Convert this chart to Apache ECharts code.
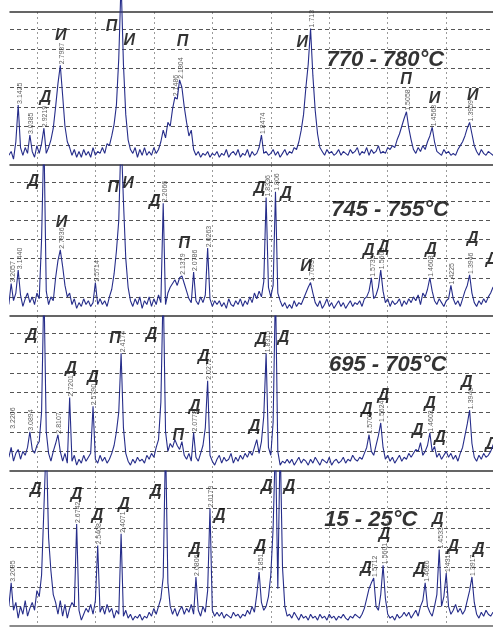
<!DOCTYPE html>
<html>
<head>
<meta charset="utf-8">
<script src="https://cdn.jsdelivr.net/npm/echarts@6/dist/echarts.min.js"></script>
<style>
  html, body { margin: 0; padding: 0; background: #fff; }
  #chart { width: 493px; height: 629px; }
</style>
</head>
<body>
<div id="chart"></div>
<script>
// 2theta sampling of the traces (deg), every 0.2 deg
var TWO_THETA_START = 27.6;
var TWO_THETA_STEP = 0.2;

// intensities, one value per 0.2 deg, rows of 2 deg
var trace770 = [
  0.5,0.7,0.3,1.2,3.1,0.9,0.5,0.9,0.6,1.55,
  0.7,0.4,1.0,0.6,1.1,1.9,0.6,0.9,1.3,1.9,
  3.0,4.2,5.15,3.6,2.0,1.2,0.9,0.5,0.8,0.4,
  0.7,0.4,0.8,0.5,0.7,0.4,0.9,0.5,0.7,0.6,
  0.9,0.6,1.1,1.0,1.5,2.1,3.1,5.5,9.5,5.2,
  2.6,1.3,0.8,0.6,0.9,0.4,0.8,0.5,0.9,0.5,
  0.7,0.5,0.9,0.6,0.8,1.2,1.8,1.4,2.2,2.0,
  2.9,3.5,3.4,4.4,4.0,3.0,2.2,1.5,1.8,0.8,
  0.5,0.7,0.4,0.6,0.5,0.7,0.4,0.6,0.5,0.7,
  0.4,0.6,0.5,0.8,0.4,0.6,0.7,0.5,0.8,0.4,
  0.6,0.5,0.8,0.4,0.7,0.5,0.6,0.9,1.55,0.6,
  0.7,0.5,0.6,0.8,0.5,0.7,0.4,0.6,0.8,0.5,
  0.7,0.6,0.9,0.8,1.2,1.8,2.6,4.0,5.2,7.05,
  4.6,2.8,1.6,0.9,0.7,0.5,0.8,0.6,0.7,0.5,
  0.6,0.8,0.5,0.7,0.6,0.5,0.8,0.6,0.7,0.9,
  0.5,0.7,0.6,0.9,0.5,0.8,0.6,0.7,1.0,0.6,
  0.7,0.6,0.9,0.8,1.0,0.9,1.3,1.6,2.0,2.4,
  2.75,1.9,1.3,0.8,0.6,0.9,0.7,1.0,0.8,1.2,
  1.5,1.95,1.2,0.7,0.6,0.5,0.8,0.6,0.7,0.5,
  0.6,0.5,0.8,1.0,1.2,1.5,1.9,2.2,1.6,1.0,
  0.7,0.5,0.8,0.6,0.5,0.7,0.6,0.5,0.6,0.5
];
var trace745 = [
  0.6,1.7,0.8,1.2,2.4,1.1,0.5,0.9,1.2,0.7,
  1.0,0.6,1.2,0.9,4.0,9.5,1.3,0.6,1.0,0.8,
  2.0,2.9,3.46,2.6,1.6,1.0,1.2,0.6,0.9,0.4,
  0.7,0.5,0.9,0.6,0.8,0.5,0.7,1.75,0.6,0.9,
  0.6,0.8,0.5,1.0,1.4,2.2,3.4,5.0,9.5,6.0,
  3.0,1.5,0.8,0.5,0.9,0.6,1.0,0.4,0.8,0.6,
  1.0,0.5,0.9,0.6,1.1,0.7,5.9,0.6,1.2,1.5,
  1.7,1.9,1.6,2.0,2.1,1.7,1.3,0.9,0.7,2.3,
  0.8,0.6,1.0,0.7,1.1,3.55,0.9,0.5,0.8,0.6,
  0.8,0.5,0.7,0.4,0.9,0.6,0.5,0.8,0.6,0.9,
  0.5,0.8,0.6,1.0,0.7,1.2,0.9,1.3,1.0,1.8,
  6.2,1.5,1.0,1.6,6.5,1.2,0.8,0.5,0.7,0.4,
  0.6,0.4,0.8,0.5,0.7,0.6,0.9,1.2,1.5,1.75,
  1.2,0.7,0.5,0.8,0.4,0.6,0.9,0.5,0.7,0.4,
  0.6,0.8,0.5,0.7,0.4,0.6,0.8,0.5,0.7,0.6,
  0.8,0.5,0.9,1.0,1.3,2.0,0.9,1.1,1.5,2.4,
  1.3,0.7,0.9,0.5,0.8,0.6,0.7,0.9,0.5,0.8,
  0.6,0.9,0.7,1.0,0.8,1.1,0.6,1.2,1.0,1.4,
  2.0,1.3,0.8,0.6,0.9,0.7,0.5,0.8,0.9,1.6,
  0.9,0.6,0.8,0.5,0.9,1.3,1.6,2.15,1.2,0.7,
  0.5,0.8,0.6,0.9,0.7,1.0,1.2,1.5,1.6,1.4
];
var trace695 = [
  0.7,1.2,0.5,0.9,1.1,0.6,1.0,0.8,1.2,2.0,
  1.1,0.9,1.3,1.5,3.0,9.5,2.0,0.9,0.5,1.0,
  1.4,1.85,1.0,0.5,0.9,0.4,3.75,0.5,0.8,0.3,
  0.6,0.4,0.8,0.5,0.7,0.9,3.3,0.6,0.4,0.8,
  0.5,0.7,0.4,0.6,0.9,1.3,2.0,3.0,6.0,2.2,
  0.9,0.5,0.3,0.6,0.4,0.7,0.5,0.6,0.4,0.8,
  0.6,0.9,0.7,1.2,1.6,3.5,9.5,2.0,1.0,1.4,
  1.2,1.6,1.3,1.1,1.5,0.8,0.6,0.9,0.5,1.96,
  0.7,0.5,0.9,1.3,2.2,4.6,0.8,0.5,0.3,0.6,
  0.8,0.4,0.7,0.5,0.6,0.9,0.4,0.7,0.5,0.8,
  0.6,0.9,0.7,1.0,0.8,1.2,1.6,0.9,1.5,2.8,
  6.0,1.2,0.8,2.5,9.5,1.0,0.3,0.5,0.4,0.6,
  0.4,0.6,0.3,0.5,0.7,0.4,0.6,0.5,0.3,0.6,
  0.4,0.7,0.5,0.3,0.6,0.5,0.4,0.7,0.3,0.5,
  0.6,0.4,0.5,0.7,0.4,0.6,0.5,0.8,0.6,0.5,
  0.7,0.6,0.9,1.2,1.85,1.0,0.8,1.3,1.8,2.45,
  1.2,0.6,0.8,0.5,0.7,0.4,0.6,0.8,0.5,0.7,
  0.6,0.9,0.7,0.9,1.1,1.0,1.45,0.8,1.0,1.3,
  1.95,1.0,1.25,0.7,0.9,0.6,0.8,1.0,0.7,0.9,
  0.6,0.8,0.5,0.9,1.2,1.8,2.4,3.1,1.4,0.7,
  0.5,0.8,0.6,0.9,0.7,0.8,1.0,1.3,1.6,1.4
];
var trace15 = [
  1.0,2.2,0.8,1.2,0.4,1.0,0.6,1.3,0.5,0.9,
  1.2,0.8,1.8,1.5,2.6,6.0,9.5,4.5,2.8,1.6,
  1.2,0.6,1.3,0.5,1.1,0.4,0.9,1.2,1.0,5.2,
  0.8,0.3,0.6,0.9,0.7,1.1,0.6,1.3,4.1,0.7,
  1.0,0.6,1.1,0.7,0.9,0.4,0.8,0.6,4.7,0.5,
  0.8,0.4,0.6,0.3,0.5,0.4,0.6,0.3,0.5,0.4,
  0.7,0.5,0.9,0.6,1.0,1.4,2.5,9.5,2.2,1.0,
  0.6,0.9,0.5,0.8,1.0,0.6,0.9,0.7,1.1,0.6,
  2.5,0.8,0.5,1.0,0.7,1.8,6.0,0.8,0.5,0.7,
  0.5,0.7,0.4,0.6,0.5,0.4,0.7,0.5,0.6,0.4,
  0.6,0.5,0.8,0.6,1.0,0.7,1.6,2.75,1.2,0.8,
  1.0,1.5,2.6,5.0,9.5,1.9,9.5,3.0,1.0,0.5,
  0.6,0.4,0.7,0.5,0.3,0.6,0.4,0.5,0.3,0.6,
  0.4,0.5,0.3,0.6,0.4,0.5,0.3,0.6,0.4,0.5,
  0.3,0.5,0.4,0.6,0.4,0.3,0.5,0.4,0.6,0.5,
  0.4,0.6,0.9,1.4,1.9,2.2,2.45,1.0,0.8,1.6,
  3.1,1.4,0.6,0.4,0.5,0.3,0.6,0.4,0.5,0.7,
  0.5,0.7,0.4,0.6,0.8,0.5,1.0,1.3,2.2,1.0,
  0.7,0.5,1.0,1.6,3.9,1.0,1.5,2.7,1.0,0.6,
  0.8,1.1,0.7,0.9,0.6,0.8,1.3,1.8,2.5,1.2,
  0.6,0.4,0.7,0.5,0.8,0.6,0.5,0.7,0.5,0.6
];

// d-spacing tags: [2theta, intensity, text]
var dSpacing770 = [[28.4,3.1,'3.1425'],[29.4,1.55,'3.0385'],[30.6,1.9,'2.9219'],[32.0,5.15,'2.7937'],
  [41.8,3.5,'2.1486'],[42.2,4.4,'2.1304'],[49.2,1.55,'1.8474'],[53.4,7.05,'1.713'],
  [61.6,2.75,'1.5058'],[63.8,1.95,'1.4568'],[67.0,2.2,'1.3959']];
var dSpacing745 = [[27.8,1.7,'3.2057'],[28.4,2.4,'3.1440'],[32.0,3.46,'2.7936'],[35.0,1.75,'2.5714'],
  [40.8,5.9,'2.2066'],[42.4,2.1,'2.1319'],[43.4,2.3,'2.0786'],[44.6,3.55,'2.0263'],
  [49.6,6.2,'1.8336'],[50.4,6.5,'1.806'],[53.4,1.75,'1.7093'],[58.6,2.0,'1.5735'],
  [59.4,2.4,'1.5603'],[63.6,2.0,'1.4603'],[65.4,1.6,'1.4225'],[67.0,2.15,'1.3946']];
var dSpacing695 = [[27.8,2.1,'3.2206'],[29.4,2.0,'3.0894'],[31.8,1.85,'2.8107'],[32.8,3.75,'2.7201'],
  [34.8,3.3,'2.5790'],[37.2,6.0,'2.4174'],[43.4,1.96,'2.0778'],[44.6,4.6,'2.0272'],
  [49.6,6.0,'1.8315'],[58.4,1.85,'1.5709'],[59.4,2.45,'1.5624'],[63.6,1.95,'1.4603'],
  [67.0,3.1,'1.3946']];
var dSpacing15 = [[27.8,2.2,'3.2095'],[33.4,5.2,'2.6742'],[35.2,4.1,'2.5408'],[37.2,4.7,'2.4071'],
  [43.6,2.5,'2.0806'],[44.8,6.0,'2.0179'],[49.0,2.75,'1.851'],[58.8,2.45,'1.5712'],
  [59.6,3.1,'1.5601'],[63.2,2.2,'1.4626'],[64.4,3.9,'1.4533'],[65.0,2.7,'1.4315'],
  [67.2,2.5,'1.3917']];

// phase letters: [2theta, intensity, letter]
var phase770 = [[30.74,3.49,'Д'],[32.05,6.7,'И'],[36.38,7.13,'П'],[37.89,6.44,'И'],[42.45,6.36,'П'],
  [52.68,6.3,'И'],[61.57,4.42,'П'],[63.99,3.44,'И'],[67.27,3.6,'И']];
var phase745 = [[29.68,7.02,'Д'],[32.11,4.89,'И'],[36.52,6.73,'П'],[37.8,6.94,'И'],[40.09,5.98,'Д'],
  [42.59,3.81,'П'],[49.03,6.68,'Д'],[51.31,6.42,'Д'],[53.02,2.59,'И'],[58.38,3.43,'Д'],
  [59.63,3.6,'Д'],[63.7,3.5,'Д'],[67.27,4.07,'Д'],[68.9,2.94,'Д']];
var phase695 = [[29.55,6.89,'Д'],[32.91,5.2,'Д'],[34.81,4.74,'Д'],[36.67,6.77,'П'],[39.8,6.94,'Д'],
  [42.08,1.81,'П'],[43.5,3.3,'Д'],[44.27,5.84,'Д'],[48.6,2.25,'Д'],[49.17,6.69,'Д'],
  [51.08,6.82,'Д'],[58.21,3.13,'Д'],[59.63,3.84,'Д'],[62.56,2.08,'Д'],[63.62,3.44,'Д'],
  [64.47,1.7,'Д'],[66.75,4.49,'Д'],[68.83,1.36,'Д']];
var phase15 = [[29.91,6.95,'Д'],[33.39,6.69,'Д'],[35.19,5.63,'Д'],[37.46,6.18,'Д'],[40.17,6.86,'Д'],
  [43.5,3.87,'Д'],[45.64,5.63,'Д'],[49.66,7.12,'Д'],[51.6,7.12,'Д'],[49.09,4.04,'Д'],
  [58.15,2.93,'Д'],[59.72,4.64,'Д'],[62.71,2.9,'Д'],[64.27,5.41,'Д'],[65.61,4.04,'Д'],
  [67.78,3.87,'Д']];

var temperatures = ['770 - 780°C', '745 - 755°C', '695 - 705°C', '15 - 25°C'];
var temperaturePos = [[59.8,5.4],[60.2,5.55],[60.0,5.42],[58.55,5.41]];

var traces = [trace770, trace745, trace695, trace15];
var dSpacings = [dSpacing770, dSpacing745, dSpacing695, dSpacing15];
var phases = [phase770, phase745, phase695, phase15];

var gridBoxes = [
  { top: 12, height: 153 },
  { top: 165, height: 151 },
  { top: 316, height: 155 },
  { top: 471, height: 155 }
];

var LINE_COLOR = '#262d8a';
var TEXT_FONT = '"Liberation Sans", Arial, sans-serif';

function toPoints(values) {
  return values.map(function (v, i) {
    return [+(TWO_THETA_START + i * TWO_THETA_STEP).toFixed(2), v];
  });
}

var grid = [], xAxis = [], yAxis = [], series = [];

gridBoxes.forEach(function (box, k) {
  grid.push({ left: 10, right: 0, top: box.top, height: box.height });

  xAxis.push({
    type: 'value', gridIndex: k, position: 'top',
    min: 27.7, max: 69, minInterval: 5, maxInterval: 5,
    axisLine: { show: true, onZero: false, lineStyle: { color: '#333', width: 1.5 } },
    axisTick: { show: false }, axisLabel: { show: false },
    splitLine: { show: true, showMinLine: false, showMaxLine: false,
      lineStyle: { color: '#9a9a9a', type: [2, 3], width: 1 } }
  });
  yAxis.push({
    type: 'value', gridIndex: k, min: 0, max: 7.9, interval: 1,
    axisLine: { show: false }, axisTick: { show: false }, axisLabel: { show: false },
    splitLine: { show: true, showMinLine: false, showMaxLine: false,
      lineStyle: { color: '#555', type: [4, 3], width: 1 } }
  });

  series.push({
    type: 'line', xAxisIndex: k, yAxisIndex: k,
    data: toPoints(traces[k]),
    showSymbol: false, clip: k !== 0, silent: true,
    lineStyle: { color: LINE_COLOR, width: 1.1 }
  });

  series.push({
    type: 'scatter', xAxisIndex: k, yAxisIndex: k,
    data: dSpacings[k], symbolSize: 0, silent: true,
    label: {
      show: true, position: 'inside', rotate: 90, align: 'left', verticalAlign: 'top',
      offset: [1, -2],
      formatter: function (p) { return p.data[2]; },
      fontSize: 7, color: '#333', fontFamily: TEXT_FONT
    }
  });

  series.push({
    type: 'scatter', xAxisIndex: k, yAxisIndex: k,
    data: phases[k], symbolSize: 0, silent: true,
    label: {
      show: true, position: 'inside',
      formatter: function (p) { return p.data[2]; },
      fontSize: 16, fontWeight: 'bold', fontStyle: 'italic', color: '#000', fontFamily: TEXT_FONT
    }
  });

  series.push({
    type: 'scatter', xAxisIndex: k, yAxisIndex: k,
    data: [[temperaturePos[k][0], temperaturePos[k][1], temperatures[k]]],
    symbolSize: 0, silent: true,
    label: {
      show: true, position: 'inside',
      formatter: function (p) { return p.data[2]; },
      fontSize: 22, fontWeight: 'bold', fontStyle: 'italic', color: '#000',
      fontFamily: TEXT_FONT
    }
  });
});

// bottom frame line of the last panel
xAxis.push({
  type: 'value', gridIndex: 3, position: 'bottom', min: 27.7, max: 69,
  axisLine: { show: true, onZero: false, lineStyle: { color: '#666', width: 1.5 } },
  axisTick: { show: false }, axisLabel: { show: false }, splitLine: { show: false }
});

var chart = echarts.init(document.getElementById('chart'), null, { renderer: 'canvas' });
chart.setOption({
  backgroundColor: '#fff',
  animation: false,
  grid: grid,
  xAxis: xAxis,
  yAxis: yAxis,
  series: series
});
window.addEventListener('resize', function () { chart.resize(); });
</script>
</body>
</html>
